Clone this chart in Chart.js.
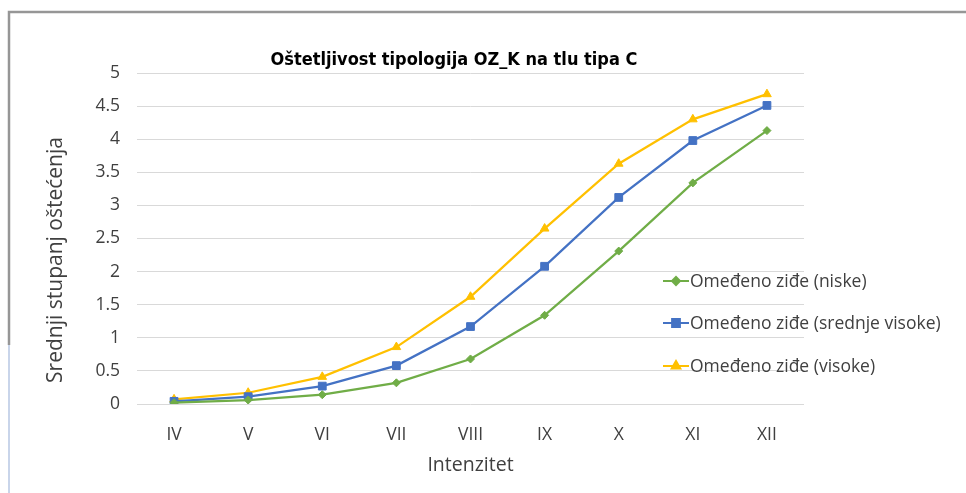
<!DOCTYPE html>
<html>
<head>
<meta charset="utf-8">
<script src="https://cdn.jsdelivr.net/npm/chart.js@4.4.1/dist/chart.umd.min.js"></script>
<style>
  html, body { margin: 0; padding: 0; background: #fff; }
  #wrap { position: relative; width: 966px; height: 493px; }
</style>
</head>
<body>
<div id="wrap"><canvas id="chart"></canvas></div>
<script>
const categories = ['IV', 'V', 'VI', 'VII', 'VIII', 'IX', 'X', 'XI', 'XII'];
const seriesNames = ['Omeđeno ziđe (niske)', 'Omeđeno ziđe (srednje visoke)', 'Omeđeno ziđe (visoke)'];
const niske = [0.02, 0.06, 0.14, 0.32, 0.68, 1.34, 2.31, 3.34, 4.13];
const srednjeVisoke = [0.04, 0.11, 0.27, 0.58, 1.17, 2.08, 3.12, 3.98, 4.51];
const visoke = [0.07, 0.17, 0.41, 0.86, 1.62, 2.65, 3.63, 4.30, 4.68];
const chartTitle = 'Oštetljivost tipologija OZ_K na tlu tipa C';
const yTitle = 'Srednji stupanj oštećenja';
const xTitle = 'Intenzitet';

const FONT = '"Open Sans", "Noto Sans", sans-serif';

// okvir, naslov, naslov osi y i legenda desno
const decorPlugin = {
    id: 'decor',
    beforeDraw(chart) {
        const ctx = chart.ctx;
        ctx.save();
        ctx.fillStyle = '#fff';
        ctx.fillRect(0, 0, chart.width, chart.height);
        ctx.strokeStyle = '#969696';
        ctx.lineWidth = 2.5;
        ctx.beginPath();
        ctx.moveTo(9, 345);
        ctx.lineTo(9, 12);
        ctx.lineTo(966, 12);
        ctx.stroke();
        ctx.strokeStyle = '#c9d5ea';
        ctx.lineWidth = 2;
        ctx.beginPath();
        ctx.moveTo(9, 345);
        ctx.lineTo(9, 493);
        ctx.stroke();
        ctx.restore();
    },
    afterDraw(chart) {
        const ctx = chart.ctx;
        ctx.save();
        ctx.fillStyle = '#000';
        ctx.font = 'bold 18px "Liberation Sans Narrow", "DejaVu Sans Condensed", ' + FONT;
        ctx.textAlign = 'center';
        ctx.textBaseline = 'middle';
        ctx.fillText(chartTitle, 454, 60);

        ctx.fillStyle = '#404040';
        ctx.font = '21px ' + FONT;
        ctx.translate(56, 260);
        ctx.rotate(-Math.PI / 2);
        ctx.fillText(yTitle, 0, 0);
        ctx.restore();

        // legenda
        const rows = [281, 323, 366];
        ctx.save();
        ctx.font = '17.5px ' + FONT;
        ctx.textAlign = 'left';
        ctx.textBaseline = 'middle';
        chart.data.datasets.forEach((ds, i) => {
            const y = rows[i];
            ctx.strokeStyle = ds.borderColor;
            ctx.lineWidth = 2;
            ctx.beginPath();
            ctx.moveTo(663, y);
            ctx.lineTo(689, y);
            ctx.stroke();
            ctx.fillStyle = ds.backgroundColor;
            Chart.helpers.drawPoint(ctx, {
                pointStyle: ds.pointStyle,
                radius: ds.pointRadius,
                borderWidth: 1,
                rotation: 0
            }, 676, y);
            ctx.fillStyle = '#404040';
            ctx.fillText(ds.label, 690, y + 1);
        });
        ctx.restore();
    }
};

const ctx = document.getElementById('chart').getContext('2d');
new Chart(ctx, {
    type: 'line',
    data: {
        labels: categories,
        datasets: [{
            label: seriesNames[0],
            data: niske,
            borderColor: '#70AD47',
            backgroundColor: '#70AD47',
            borderWidth: 2.25,
            pointStyle: 'rectRot',
            pointRadius: 4,
            pointBorderWidth: 1,
            tension: 0
        }, {
            label: seriesNames[1],
            data: srednjeVisoke,
            borderColor: '#4472C4',
            backgroundColor: '#4472C4',
            borderWidth: 2.25,
            pointStyle: 'rect',
            pointRadius: 5.5,
            pointBorderWidth: 1,
            tension: 0
        }, {
            label: seriesNames[2],
            data: visoke,
            borderColor: '#FFC000',
            backgroundColor: '#FFC000',
            borderWidth: 2.25,
            pointStyle: 'triangle',
            pointRadius: 5,
            pointBorderWidth: 1,
            tension: 0
        }]
    },
    options: {
        responsive: true,
        maintainAspectRatio: false,
        animation: false,
        layout: {
            padding: { top: 73, right: 162, bottom: 0, left: 0 }
        },
        plugins: {
            legend: { display: false },
            title: { display: false },
            tooltip: { enabled: false }
        },
        scales: {
            x: {
                offset: true,
                grid: { display: false, drawTicks: false, offset: true },
                border: { display: false },
                ticks: {
                    color: '#404040',
                    font: { family: FONT, size: 17.5 },
                    padding: 21
                },
                title: {
                    display: true,
                    text: xTitle,
                    color: '#404040',
                    font: { family: FONT, size: 19.5 },
                    padding: { top: 0, bottom: 16 }
                },
                afterFit(scale) { scale.height = 89; }
            },
            y: {
                min: 0,
                max: 5,
                grid: { color: '#d9d9d9', drawTicks: false },
                border: { display: false },
                ticks: {
                    stepSize: 0.5,
                    color: '#404040',
                    font: { family: FONT, size: 17.5 },
                    padding: 17,
                    callback: (value) => String(value)
                },
                afterFit(scale) { scale.width = 137; }
            }
        }
    },
    plugins: [decorPlugin]
});
</script>
</body>
</html>
